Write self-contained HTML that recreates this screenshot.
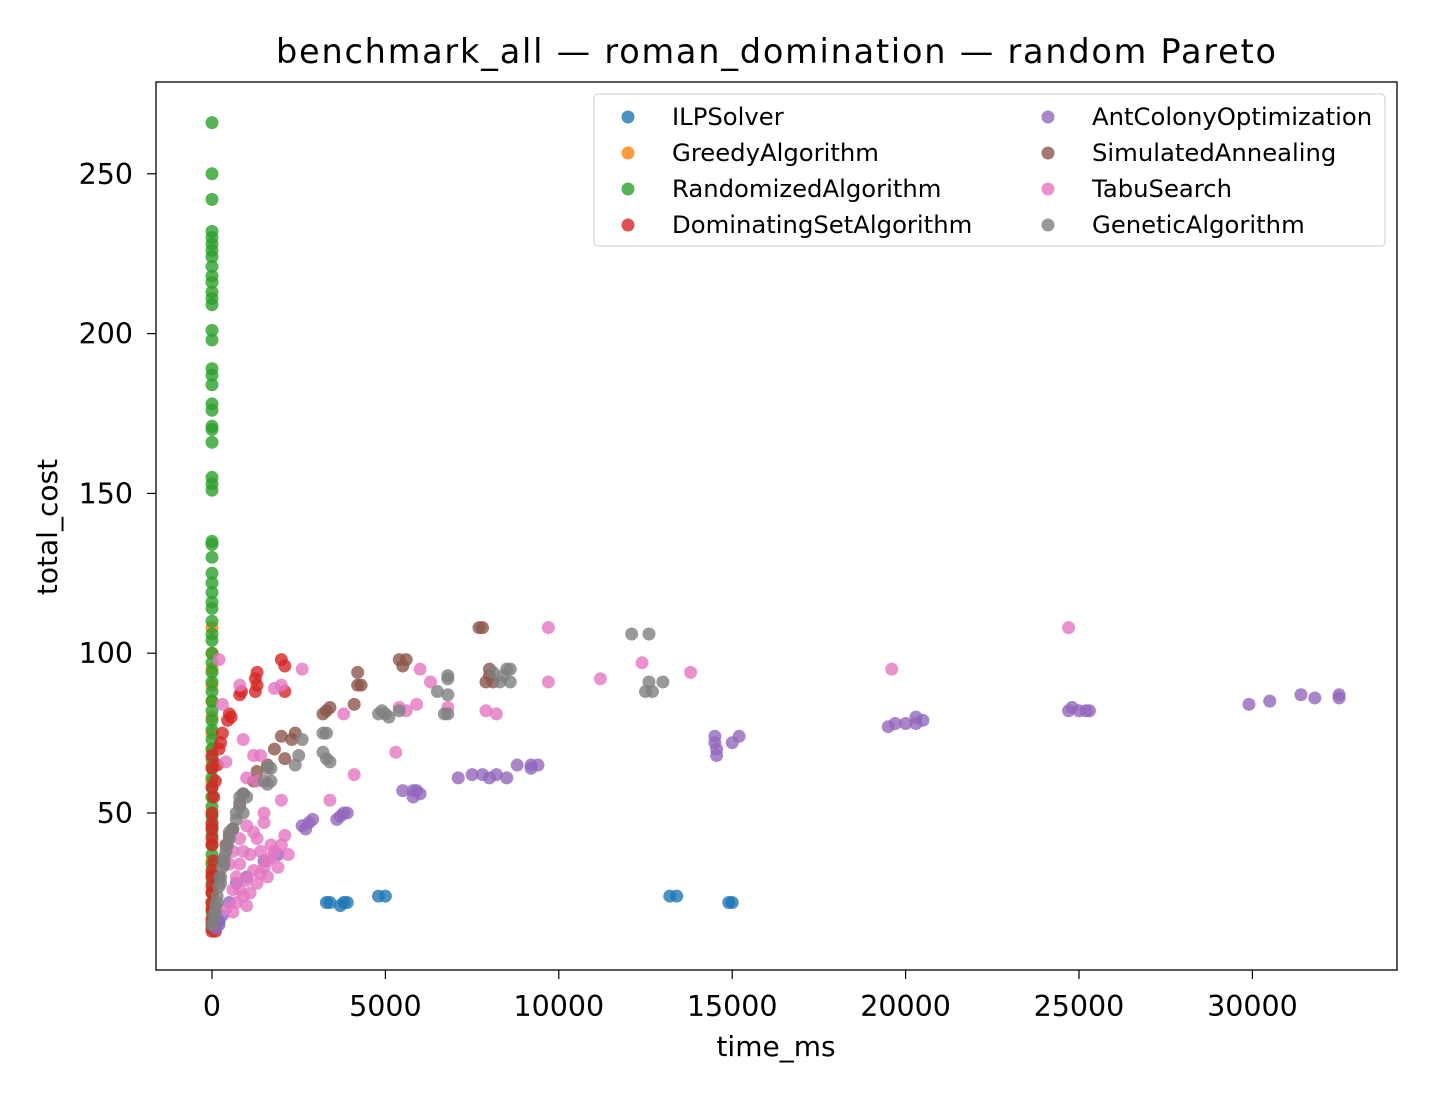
<!DOCTYPE html>
<html><head><meta charset="utf-8">
<style>
body{margin:0;background:#fff;}
svg{display:block;font-family:"DejaVu Sans","Liberation Sans",sans-serif;}
</style></head>
<body>
<svg id="chart" width="1430" height="1100">
<rect width="1430" height="1100" fill="#fff"/>
<text x="776" y="63" font-size="33.5" text-anchor="middle" textLength="1000" lengthAdjust="spacing">benchmark_all — roman_domination — random Pareto</text>
<g id="marks"></g>
<rect x="156" y="82" width="1241" height="888" fill="none" stroke="#000" stroke-width="1.3"/>
<g id="xt"></g>
<g id="yt"></g>
<text x="776" y="1056" font-size="28" text-anchor="middle">time_ms</text>
<text transform="translate(57,527) rotate(-90)" font-size="28" text-anchor="middle">total_cost</text>
<g id="legend">
<rect x="594" y="94" width="791" height="152" rx="4" fill="#fff" fill-opacity="0.8" stroke="#ccc"/>
</g>
</svg>
<script>
const names=["ILPSolver","GreedyAlgorithm","RandomizedAlgorithm","DominatingSetAlgorithm","AntColonyOptimization","SimulatedAnnealing","TabuSearch","GeneticAlgorithm"];
const colors=["#1f77b4","#ff7f0e","#2ca02c","#d62728","#9467bd","#8c564b","#e377c2","#7f7f7f"];
const xTicks=[0,5000,10000,15000,20000,25000,30000];
const yTicks=[50,100,150,200,250];
const ilp=[[3300,22],[3400,22],[3700,21],[3800,22],[3900,22],[4800,24],[5000,24],[13200,24],[13400,24],[14900,22],[15000,22],[0,14],[100,15],[200,16]];
const greedy=[[0,108],[0,100],[0,95],[0,90],[0,85],[0,80],[0,75],[0,70],[0,65],[0,60],[0,55],[0,50],[0,45],[0,40],[0,35],[0,30],[0,25],[0,20],[0,14]];
const randomized=[266,250,242,232,230,228,226,224,221,218,216,213,211,209,201,198,189,187,184,178,176,171,170,166,155,153,151,135,134,130,125,122,119,116,114,110,106,104,100,97,94,91,88,85,82,79,76,73,70,67,64,61,58,55,52,49,46,43,40,37,34,31,28,25,22,19,16,14].map(v=>[0,v]);
const dominating=[[2000,98],[2100,96],[1300,94],[1250,92],[1300,90],[1250,88],[2100,88],[800,87],[850,88],[500,81],[550,80],[450,79],[300,75],[250,72],[200,70],[150,65],[100,60],[50,55],[0,68],[0,64],[0,58],[0,50],[0,47],[0,45],[0,42],[0,40],[50,35],[0,32],[0,30],[0,27],[0,25],[0,22],[0,20],[0,17],[0,15],[0,13],[100,13]];
const aco=[[14500,74],[14500,72],[14550,70],[14550,68],[15000,72],[15200,74],[19500,77],[19700,78],[20000,78],[20300,80],[20300,78],[20500,79],[24700,82],[24800,83],[25000,82],[25200,82],[25300,82],[29900,84],[30500,85],[31400,87],[31800,86],[32500,87],[32500,86],[7100,61],[7500,62],[7800,62],[8000,61],[8200,62],[8500,61],[8800,65],[9200,65],[9400,65],[9200,64],[5500,57],[5800,57],[5800,55],[6000,56],[5900,57],[3600,48],[3800,50],[3900,50],[3700,49],[2700,45],[2800,47],[2900,48],[2600,46],[1900,37],[1500,35],[1000,30],[700,28],[500,22],[300,18],[200,15],[100,14]];
const sa=[[7700,108],[7800,108],[5400,98],[5600,98],[5500,96],[4200,94],[4200,90],[4100,84],[4300,90],[3300,82],[3200,81],[3400,83],[8000,95],[7900,91],[8100,91],[8000,93],[2400,75],[2300,73],[2000,74],[1800,70],[2100,67],[1600,65],[1300,63],[1200,60],[900,56],[800,53],[600,45],[500,43],[400,40],[300,35],[200,30]];
const tabu=[[9700,108],[24700,108],[12400,97],[19600,95],[13800,94],[6000,95],[2600,95],[200,98],[11200,92],[9700,91],[7900,82],[8200,81],[6300,91],[6800,83],[5900,84],[5600,82],[5400,83],[3800,81],[4100,62],[5300,69],[3400,54],[2000,54],[1500,47],[1300,42],[2100,43],[1800,38],[1600,35],[1200,32],[1000,29],[800,26],[700,22],[600,19],[900,24],[1400,31],[1700,36],[2000,40],[1100,37],[1300,60],[1000,61],[900,73],[1200,68],[1400,68],[1800,89],[2000,90],[800,90],[300,84],[400,66],[1000,46],[1500,50],[600,38],[500,34],[700,30],[800,34],[1100,25],[1300,28],[1500,33],[1700,40],[900,38],[1200,44],[1900,33],[600,26],[400,20],[1000,21],[1400,38],[800,42],[1600,30],[2200,37]];
const ga=[[12100,106],[12600,106],[12600,91],[13000,91],[12500,88],[12700,88],[6500,88],[6800,87],[6800,93],[6800,92],[8100,94],[8500,95],[8600,95],[8400,93],[8600,91],[8300,91],[6700,81],[6800,81],[4800,81],[5000,81],[5100,80],[5400,82],[4900,82],[3200,75],[3300,75],[3200,69],[3300,67],[3400,66],[2600,73],[2500,68],[2400,65],[1600,64],[1700,64],[1500,60],[1600,59],[1700,60],[1000,55],[900,56],[800,52],[900,50],[700,48],[600,45],[500,42],[450,40],[400,38],[350,36],[300,33],[250,30],[200,27],[150,24],[100,21],[50,18],[0,15],[500,44],[350,34],[250,28],[150,22],[100,19],[50,16],[800,55],[700,50]];
const series=[ilp,greedy,randomized,dominating,aco,sa,tabu,ga];

const NS="http://www.w3.org/2000/svg";
const X0=156,X1=1397,Y0=82,Y1=970;
const xs=v=>212+v*0.03468;
const ys=v=>813-(v-50)*3.196;
function mk(tag,attrs,parent){const e=document.createElementNS(NS,tag);for(const k in attrs)e.setAttribute(k,attrs[k]);parent.appendChild(e);return e;}
const marks=document.getElementById('marks');
series.forEach((pts,si)=>{
  const g=mk('g',{},marks);
  
  
  pts.forEach(p=>{
    const c=mk('circle',{cx:xs(p[0]),cy:ys(p[1]),r:6.5,fill:colors[si],'fill-opacity':0.8},g);
    
    
  });
});
const xt=document.getElementById('xt');
xTicks.forEach(t=>{
  const x=xs(t);
  mk('line',{x1:x,x2:x,y1:Y1,y2:Y1+9,stroke:'#000','stroke-width':1.2},xt);
  const tx=mk('text',{x:x,y:Y1+46,'font-size':28.5,'text-anchor':'middle'},xt);
  tx.textContent=t;
  
  
});
const yt=document.getElementById('yt');
yTicks.forEach(t=>{
  const y=ys(t);
  mk('line',{x1:X0-9,x2:X0,y1:y,y2:y,stroke:'#000','stroke-width':1.2},yt);
  const tx=mk('text',{x:X0-23,y:y+10,'font-size':28.5,'text-anchor':'end'},yt);
  tx.textContent=t;
  
  
});
const lg=document.getElementById('legend');
names.forEach((n,i)=>{
  const col=Math.floor(i/4),row=i%4;
  const mx=628+col*420,my=117+row*36;
  const g=mk('g',{},lg);
  
  
  mk('circle',{cx:mx,cy:my,r:6.5,fill:colors[i],'fill-opacity':0.8},g);
  const t=mk('text',{x:mx+44,y:my+8,'font-size':24.3},g);
  t.textContent=n;
});
</script>
</body></html>
